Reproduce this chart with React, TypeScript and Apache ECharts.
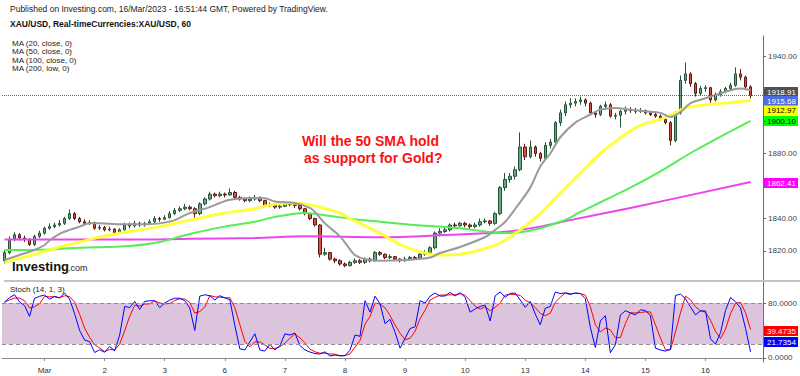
import React, { useEffect, useRef } from 'react';
import * as echarts from 'echarts';

// ---- price data: 2-hour bars, Feb 28 16:00 .. Mar 16 16:00 (XAU/USD) ----
const firstOpen = 1814;
const closes = [
  1819, 1827, 1830, 1828, 1827, 1824, 1829, 1831, 1834, 1835,
  1836, 1837, 1840, 1843, 1840, 1838, 1837, 1837.5, 1834, 1834.5,
  1833, 1833.5, 1831, 1833, 1836, 1835.5, 1837, 1836, 1837, 1838,
  1840, 1839.5, 1840.5, 1843, 1845, 1846, 1847, 1846, 1843, 1849,
  1852, 1855, 1854, 1855, 1854.5, 1856, 1853, 1852, 1851, 1852,
  1853, 1851, 1848, 1848.5, 1847, 1847.5, 1849, 1848.5, 1848, 1846,
  1843, 1840, 1836, 1818, 1819, 1815, 1814, 1812, 1811, 1813,
  1814, 1813, 1815, 1814, 1819, 1818, 1816, 1816.5, 1815, 1814,
  1815, 1816, 1815.5, 1818, 1819, 1822, 1831, 1832, 1833, 1836,
  1835.5, 1837, 1836, 1835, 1836, 1838, 1838.5, 1837, 1843, 1859,
  1864, 1866, 1870, 1884, 1878, 1884, 1880, 1877, 1885, 1887,
  1899, 1905, 1910, 1911, 1912, 1913, 1911, 1905, 1904, 1909,
  1910, 1903, 1903.5, 1906, 1907, 1906.5, 1906, 1906.5, 1905, 1904,
  1903, 1901, 1899, 1888, 1905, 1925, 1929, 1923, 1917, 1920,
  1920.5, 1913, 1916, 1918, 1920, 1922, 1929, 1927, 1921, 1915.68,
];
const highs = [
  1820.5, 1829, 1831.5, 1831, 1829.5, 1828, 1830, 1832.5, 1835, 1837,
  1837.5, 1839, 1841, 1845.5, 1844, 1841, 1839.5, 1839, 1838, 1836,
  1835.5, 1835, 1834, 1834, 1837.5, 1837.5, 1838.5, 1838, 1838, 1839.5,
  1841.5, 1841, 1842, 1844.5, 1846.5, 1847.5, 1849, 1848, 1847, 1850,
  1853, 1856.5, 1856, 1856.5, 1856, 1858.5, 1857, 1854, 1853, 1853.5,
  1854.5, 1853.5, 1851.5, 1850, 1849, 1849, 1850.5, 1850.5, 1849.5, 1848.5,
  1846.5, 1843.5, 1840.5, 1836.5, 1822, 1819.5, 1816, 1815, 1813, 1814,
  1815.5, 1815, 1816, 1816, 1820, 1820, 1818.5, 1818, 1817, 1815.5,
  1816.5, 1817, 1817, 1819, 1820.5, 1823, 1832, 1834, 1835, 1837,
  1837.5, 1838, 1838, 1837, 1837.5, 1840, 1840, 1839, 1844, 1860,
  1868, 1868, 1872, 1893, 1886, 1888, 1885, 1881, 1887, 1889,
  1900, 1907, 1912, 1914, 1914, 1915, 1914, 1912, 1906, 1910,
  1912, 1911, 1905, 1907, 1909, 1908.5, 1908, 1908, 1907, 1906,
  1905, 1904, 1902, 1900, 1906, 1928, 1936, 1930, 1924, 1921.5,
  1922, 1921, 1917.5, 1919.5, 1921, 1923.5, 1933, 1932, 1928, 1922,
];
const lows = [
  1812.5, 1818, 1826, 1826.5, 1825.5, 1823, 1823, 1828, 1830, 1833,
  1834, 1835, 1836, 1839, 1839, 1837, 1836, 1836, 1833, 1833,
  1832, 1832, 1830, 1830.5, 1832.5, 1834, 1834.5, 1835, 1835, 1836,
  1837, 1838, 1839, 1840, 1842, 1844, 1845, 1845, 1840.5, 1842,
  1848, 1851, 1853, 1853, 1853, 1854, 1852, 1851, 1850, 1850,
  1851, 1850, 1847, 1847, 1846, 1846, 1847, 1847.5, 1846.5, 1845,
  1842, 1839, 1835, 1816, 1817, 1814, 1812.5, 1811, 1810, 1810.5,
  1812, 1812, 1812, 1813, 1813.5, 1817, 1815, 1815, 1814, 1813,
  1813.5, 1814, 1814.5, 1815, 1817, 1818, 1821, 1829, 1831, 1832,
  1834, 1835, 1834.5, 1833.5, 1834, 1835, 1837, 1835.5, 1836, 1842,
  1857, 1862, 1864, 1869, 1876, 1877, 1878, 1875, 1876, 1883,
  1886, 1897, 1903, 1908, 1909, 1910, 1909, 1904, 1902, 1903,
  1907, 1902, 1901, 1896, 1904, 1905, 1904.5, 1905, 1904, 1903,
  1902, 1900, 1898, 1885, 1887, 1904, 1923, 1921, 1915, 1916,
  1918, 1911, 1912, 1915, 1917, 1919, 1921, 1925, 1919, 1914,
];

// ---- moving averages as [bar index, value] ----
const ma20Points: [number, number][] = [
  [0, 1814.5], [3, 1817.5], [6, 1820.6], [8, 1823.7], [9, 1826.5], [11, 1830.5], [13, 1833],
  [15, 1835], [17, 1837], [19, 1837], [22, 1836.6], [24, 1836.4], [28, 1836.5], [31, 1837],
  [34, 1839], [37, 1843.4], [41, 1847], [43, 1849.5], [45, 1851.5], [49, 1852.6], [52, 1852.4],
  [54, 1850.5], [58, 1849.5], [61, 1846.5], [62, 1844], [64, 1837], [67, 1829], [69, 1821],
  [70, 1817.5], [72, 1815], [75, 1814], [80, 1814.5], [85, 1816], [87, 1818.8], [91, 1822.5],
  [96, 1828.6], [98, 1833], [100, 1838], [102, 1846], [105, 1859], [107, 1872], [109, 1880],
  [111, 1890], [114, 1899], [117, 1904], [119, 1907], [122, 1908], [125, 1907], [128, 1906],
  [131, 1905], [133, 1902.5], [135, 1905.5], [137, 1911], [140, 1914], [143, 1917],
  [146, 1919.7], [147, 1920], [149, 1918.91],
];
const ma50Points: [number, number][] = [
  [0, 1813], [3, 1815.5], [7, 1818.8], [11, 1822.5], [15, 1825.5], [19, 1828.6], [23, 1831],
  [25, 1832], [31, 1835], [37, 1839], [44, 1843.4], [50, 1846], [53, 1848.3], [57, 1849.5],
  [60, 1849], [63, 1847], [67, 1843.4], [69, 1840], [72, 1835.5], [75, 1831], [79, 1824],
  [83, 1819.5], [87, 1817.5], [91, 1818], [95, 1820.6], [99, 1825], [103, 1833], [107, 1843],
  [111, 1855.7], [115, 1868], [119, 1880], [123, 1889.5], [125, 1894], [128, 1898.5],
  [131, 1901], [134, 1905], [136, 1908], [140, 1910], [144, 1911], [146, 1911.7], [149, 1912.97],
];
const ma100Points: [number, number][] = [
  [0, 1820.6], [7, 1820.8], [15, 1822], [25, 1823], [31, 1825.5], [37, 1830.5], [44, 1835],
  [50, 1838], [54, 1841], [60, 1843.4], [65, 1841.5], [70, 1839.5], [75, 1838], [82, 1836],
  [87, 1835], [91, 1834], [96, 1832], [100, 1831], [103, 1831.5], [107, 1834], [111, 1838],
  [113, 1840.5], [115, 1844], [119, 1850], [125, 1859], [131, 1869], [138, 1882], [149, 1900.1],
];
const ma200Points: [number, number][] = [
  [0, 1827], [25, 1827], [37, 1827.5], [50, 1828], [60, 1829], [75, 1828.5], [89, 1830],
  [99, 1831.5], [107, 1835], [113, 1839], [125, 1846.5], [149, 1862.41],
];

// ---- axes ----
const dayLabels = ['Mar', '2', '3', '6', '7', '8', '9', '10', '13', '14', '15', '16'];
const firstDayBar = 8;
const barsPerDay = 12;
const slotCount = 152;
const priceTicks = [1820, 1840, 1860, 1880, 1900, 1920, 1940];
// 1860, 1900 and 1920 sit under the value boxes, so their texts are not shown
const priceTickLabels = [1820, 1840, 1880, 1940];
const stochTicks = [0, 80];
const stochBand = [20, 80];
const stochPeriod = 7; // 7 x 2h bars = 14 hours
const stochSmooth = 3;

// ---- last values shown on the right scale ----
const lastMa20 = 1918.91;
const lastClose = 1915.68;
const lastMa50 = 1912.97;
const lastMa100 = 1900.1;
const lastMa200 = 1862.41;
const lastStochD = 39.4735;
const lastStochK = 21.7354;

const FONT = 'Liberation Sans, Arial, Helvetica, sans-serif';

function buildStoch() {
  const k = closes.map((c, i) => {
    const s = Math.max(0, i - stochPeriod + 1);
    let hh = -Infinity;
    let ll = Infinity;
    for (let j = s; j <= i; j++) {
      hh = Math.max(hh, highs[j]);
      ll = Math.min(ll, lows[j]);
    }
    return hh === ll ? 50 : (100 * (c - ll)) / (hh - ll);
  });
  const d = k.map((_, i) => {
    const s = Math.max(0, i - stochSmooth + 1);
    let sum = 0;
    for (let j = s; j <= i; j++) sum += k[j];
    return sum / (i - s + 1);
  });
  return { k, d };
}

function valueBox(y: number, text: string, bg: string, fg: string) {
  return {
    type: 'group',
    x: 764,
    y: y - 5,
    silent: true,
    children: [
      { type: 'rect', shape: { x: 0, y: 0, width: 34, height: 10 }, style: { fill: bg } },
      {
        type: 'text',
        x: 3,
        y: 5,
        style: { text, fill: fg, font: `8px ${FONT}`, verticalAlign: 'middle', align: 'left' },
      },
    ],
  };
}

export default function App() {
  const ref = useRef<HTMLDivElement>(null);

  useEffect(() => {
    if (!ref.current) return;
    const chart = echarts.init(ref.current, undefined, { renderer: 'svg' });

    const categories = Array.from({ length: slotCount }, (_, i) => String(i));
    const isDayStart = (i: number) =>
      i >= firstDayBar && (i - firstDayBar) % barsPerDay === 0 && (i - firstDayBar) / barsPerDay < dayLabels.length;
    const ohlc = closes.map((c, i) => {
      const o = i === 0 ? firstOpen : closes[i - 1];
      return [o, c, lows[i], highs[i]];
    });
    const { k, d } = buildStoch();

    const maLine = (name: string, pts: [number, number][], color: string, width: number, opacity = 1) => ({
      name,
      type: 'line',
      xAxisIndex: 0,
      yAxisIndex: 0,
      data: pts,
      showSymbol: false,
      smooth: 0.35,
      silent: true,
      lineStyle: { color, width, opacity },
      z: 3,
    });

    chart.setOption({
      animation: false,
      backgroundColor: '#ffffff',
      textStyle: { fontFamily: FONT },
      grid: [
        { left: 2, right: 36, top: 36, height: 244 },
        { left: 2, right: 36, top: 282, height: 80 },
      ],
      xAxis: [
        {
          type: 'category',
          gridIndex: 0,
          data: categories,
          boundaryGap: true,
          axisLine: { show: false },
          axisTick: { show: false },
          axisLabel: { show: false },
          splitLine: { show: false },
        },
        {
          type: 'category',
          gridIndex: 1,
          data: categories,
          boundaryGap: true,
          axisLine: { show: true, lineStyle: { color: '#8a8a8a', width: 1 } },
          axisTick: {
            show: true,
            alignWithLabel: true,
            interval: (i: number) => isDayStart(i),
            length: 3,
            lineStyle: { color: '#8a8a8a' },
          },
          axisLabel: {
            interval: (i: number) => isDayStart(i),
            formatter: (_v: string, i: number) => (isDayStart(i) ? dayLabels[(i - firstDayBar) / barsPerDay] : ''),
            fontSize: 8,
            color: '#333',
            margin: 4,
          },
          splitLine: { show: false },
        },
      ],
      yAxis: [
        {
          type: 'value',
          gridIndex: 0,
          position: 'right',
          min: 1802.15,
          max: 1952.31,
          scale: true,
          axisLine: { show: true, lineStyle: { color: '#6a6a6a', width: 1 } },
          axisTick: { show: true, length: 3, customValues: priceTicks, lineStyle: { color: '#6a6a6a' } },
          axisLabel: {
            customValues: priceTickLabels,
            formatter: (v: number) => v.toFixed(2),
            fontSize: 8,
            color: '#444',
            margin: 5,
          },
          splitLine: { show: false },
        },
        {
          type: 'value',
          gridIndex: 1,
          position: 'right',
          min: -5.82,
          max: 110.55,
          axisLine: { show: true, lineStyle: { color: '#6a6a6a', width: 1 } },
          axisTick: { show: true, length: 3, customValues: stochTicks, lineStyle: { color: '#6a6a6a' } },
          axisLabel: {
            customValues: stochTicks,
            formatter: (v: number) => v.toFixed(4),
            fontSize: 8,
            color: '#444',
            margin: 5,
          },
          splitLine: { show: false },
        },
      ],
      series: [
        {
          name: 'XAU/USD',
          type: 'candlestick',
          xAxisIndex: 0,
          yAxisIndex: 0,
          data: ohlc,
          barWidth: 3,
          silent: true,
          itemStyle: {
            color: '#6ba583',
            color0: '#d75442',
            borderColor: '#225437',
            borderColor0: '#5b1a13',
            borderWidth: 1,
          },
          markLine: {
            silent: true,
            symbol: 'none',
            label: { show: false },
            lineStyle: { color: '#4a63d8', type: 'dotted', width: 1 },
            data: [{ yAxis: lastClose }],
          },
          z: 2,
        },
        maLine('MA 200', ma200Points, '#ee44ee', 2),
        maLine('MA 100', ma100Points, '#55ee55', 2),
        maLine('MA 50', ma50Points, '#ffff33', 3, 0.95),
        maLine('MA 20', ma20Points, '#9a9a9a', 2),
        {
          name: 'band',
          type: 'line',
          xAxisIndex: 1,
          yAxisIndex: 1,
          data: [],
          silent: true,
          z: 1,
          markArea: {
            silent: true,
            itemStyle: { color: '#dcc4dc' },
            data: [[{ yAxis: stochBand[0] }, { yAxis: stochBand[1] }]],
          },
          markLine: {
            silent: true,
            symbol: 'none',
            label: { show: false },
            lineStyle: { color: '#8c8c8c', type: [4, 3], width: 1 },
            data: [{ yAxis: stochBand[0] }, { yAxis: stochBand[1] }],
          },
        },
        {
          name: '%D',
          type: 'line',
          xAxisIndex: 1,
          yAxisIndex: 1,
          data: d,
          showSymbol: false,
          silent: true,
          lineStyle: { color: '#ff0000', width: 1 },
          z: 3,
        },
        {
          name: '%K',
          type: 'line',
          xAxisIndex: 1,
          yAxisIndex: 1,
          data: k,
          showSymbol: false,
          silent: true,
          lineStyle: { color: '#0000ff', width: 1 },
          z: 4,
        },
      ],
      graphic: [
        {
          type: 'line',
          silent: true,
          shape: { x1: 4, y1: 281, x2: 800, y2: 281 },
          style: { stroke: '#c4c4c4', lineWidth: 2 },
          z: 10,
        },
        {
          type: 'text',
          x: 10,
          y: 9,
          style: {
            text: 'Published on Investing.com, 16/Mar/2023 - 16:51:44 GMT, Powered by TradingView.',
            fill: '#222',
            font: `8.5px ${FONT}`,
            verticalAlign: 'middle',
          },
        },
        {
          type: 'text',
          x: 10,
          y: 24,
          style: {
            text: 'XAU/USD, Real-timeCurrencies:XAU/USD, 60',
            fill: '#111',
            font: `bold 8.5px ${FONT}`,
            verticalAlign: 'middle',
          },
        },
        { type: 'text', x: 12, y: 43, style: { text: 'MA (20, close, 0)', fill: '#222', font: `8px ${FONT}`, verticalAlign: 'middle' } },
        { type: 'text', x: 12, y: 51.5, style: { text: 'MA (50, close, 0)', fill: '#222', font: `8px ${FONT}`, verticalAlign: 'middle' } },
        { type: 'text', x: 12, y: 60, style: { text: 'MA (100, close, 0)', fill: '#222', font: `8px ${FONT}`, verticalAlign: 'middle' } },
        { type: 'text', x: 12, y: 68.5, style: { text: 'MA (200, low, 0)', fill: '#222', font: `8px ${FONT}`, verticalAlign: 'middle' } },
        { type: 'text', x: 10, y: 289, style: { text: 'Stoch (14, 1, 3)', fill: '#222', font: `8px ${FONT}`, verticalAlign: 'middle' } },
        {
          type: 'text',
          x: 302,
          y: 141,
          style: { text: 'Will the 50 SMA hold', fill: '#ff1010', font: `bold 14px ${FONT}`, verticalAlign: 'middle' },
        },
        {
          type: 'text',
          x: 304,
          y: 158,
          style: { text: 'as support for Gold?', fill: '#ff1010', font: `bold 14px ${FONT}`, verticalAlign: 'middle' },
        },
        {
          type: 'text',
          x: 12,
          y: 266,
          style: { text: 'Investing', fill: '#111', font: `bold 13px ${FONT}`, verticalAlign: 'middle' },
        },
        {
          type: 'text',
          x: 68,
          y: 268,
          style: { text: '.com', fill: '#222', font: `9px ${FONT}`, verticalAlign: 'middle' },
        },
        valueBox(92, lastMa20.toFixed(2), '#505050', '#ffffff'),
        valueBox(101, lastClose.toFixed(2), '#4a6ee0', '#ffffff'),
        valueBox(110.5, lastMa50.toFixed(2), '#ffff00', '#000000'),
        valueBox(121, lastMa100.toFixed(2), '#00ff00', '#000000'),
        valueBox(183, lastMa200.toFixed(2), '#ff00ff', '#ffffff'),
        valueBox(331, lastStochD.toFixed(4), '#ff0000', '#ffffff'),
        valueBox(342, lastStochK.toFixed(4), '#0000ff', '#ffffff'),
      ],
    });

    return () => chart.dispose();
  }, []);

  return <div ref={ref} style={{ position: 'fixed', left: 0, top: 0, width: 800, height: 376 }} />;
}
